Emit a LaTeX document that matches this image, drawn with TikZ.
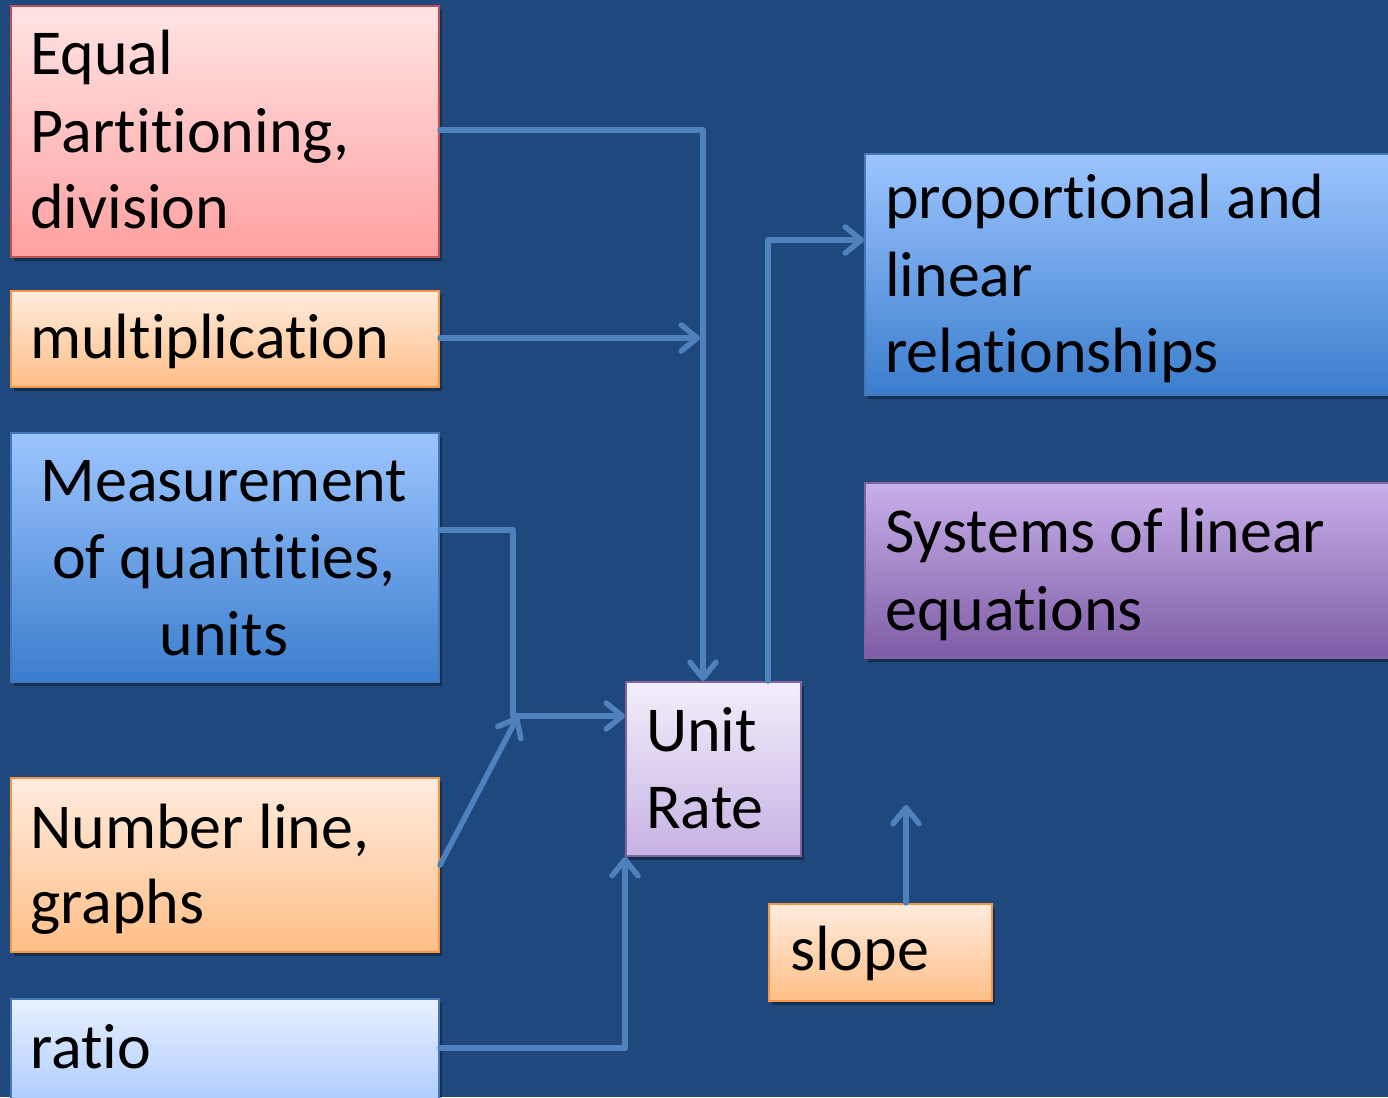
\documentclass[tikz,border=0pt]{standalone}
\usepackage{fontspec}
\setmainfont[RawFeature={-liga;-clig;-calt;-dlig}]{Carlito}
\usetikzlibrary{arrows.meta,shadows}
\definecolor{bg}{RGB}{31,73,125}
\definecolor{conn}{RGB}{79,129,189}
\definecolor{pinkT}{RGB}{255,228,228}
\definecolor{pinkB}{RGB}{255,160,160}
\definecolor{pinkD}{RGB}{192,80,77}
\definecolor{orT}{RGB}{255,236,222}
\definecolor{orB}{RGB}{255,190,134}
\definecolor{orD}{RGB}{247,150,70}
\definecolor{blT}{RGB}{157,197,255}
\definecolor{blB}{RGB}{58,125,205}
\definecolor{blD}{RGB}{70,120,185}
\definecolor{ltT}{RGB}{232,240,255}
\definecolor{ltB}{RGB}{160,195,255}
\definecolor{puT}{RGB}{200,176,234}
\definecolor{puB}{RGB}{126,92,166}
\definecolor{puD}{RGB}{128,100,162}
\definecolor{lvT}{RGB}{243,238,250}
\definecolor{lvB}{RGB}{198,178,228}
\tikzset{
  box/.style={draw, line width=2pt, anchor=north west, inner sep=0pt,
    drop shadow={shadow xshift=3pt, shadow yshift=-4pt, opacity=0.35, fill=black}},
  pinkbox/.style={box, draw=pinkD, top color=pinkT, bottom color=pinkB},
  orbox/.style={box, draw=orD, top color=orT, bottom color=orB},
  bluebox/.style={box, draw=blD, top color=blT, bottom color=blB},
  ltbox/.style={box, draw=blD, top color=ltT, bottom color=ltB},
  purbox/.style={box, draw=puD, top color=puT, bottom color=puB},
  lavbox/.style={box, draw=puD, top color=lvT, bottom color=lvB},
  txt/.style={inner sep=0pt, anchor=base west, font=\fontsize{64}{77}\selectfont, text=black},
  conline/.style={draw=conn, line width=5.5pt, line cap=round, line join=round},
  arr/.style={conline, -{Straight Barb[length=16pt,width=26pt,line width=5.5pt,round]}}
}
\begin{document}
\begin{tikzpicture}[x=1pt,y=-1pt]
\useasboundingbox (0,0) rectangle (1388,1097);
\fill[bg] (0,0) rectangle (1388,1097);
\clip (0,0) rectangle (1388,1097);
% boxes
\node[pinkbox, minimum width=428pt, minimum height=251pt] (eq) at (10,5) {};
\node[orbox, minimum width=428pt, minimum height=96pt] (mu) at (10,290) {};
\node[bluebox, minimum width=428pt, minimum height=249pt] (me) at (10,432) {};
\node[orbox, minimum width=428pt, minimum height=174pt] (nl) at (10,777) {};
\node[ltbox, minimum width=428pt, minimum height=130pt] (ra) at (10,998) {};
\node[bluebox, minimum width=540pt, minimum height=241pt] (pr) at (864,153) {};
\node[purbox, minimum width=540pt, minimum height=175pt] (sy) at (864,482) {};
\node[lavbox, minimum width=175pt, minimum height=174pt] (ur) at (625,681) {};
\node[orbox, minimum width=223pt, minimum height=97pt] (sl) at (768,903) {};
% texts
\node[txt] (t1a) at (30,75) {Equal};
\node[txt] (t1b) at (30,152) {Partitioning,};
\node[txt] (t1c) at (30,228) {division};
\node[txt] (t2) at (30,358) {multiplication};
\node[txt, anchor=base] (t3a) at (224,501) {Measurement};
\node[txt, anchor=base] (t3b) at (224,578) {of quantities,};
\node[txt, anchor=base] (t3c) at (224,655) {units};
\node[txt] (t4a) at (30,848) {Number line,};
\node[txt] (t4b) at (30,923) {graphs};
\node[txt] (t5) at (30,1068) {ratio};
\node[txt] (t6a) at (885,218) {proportional and};
\node[txt] (t6b) at (885,296) {linear};
\node[txt] (t6c) at (885,372) {relationships};
\node[txt] (t7a) at (885,552) {Systems of linear};
\node[txt] (t7b) at (885,630) {equations};
\node[txt] (t8a) at (646,751) {Unit};
\node[txt] (t8b) at (646,828) {Rate};
\node[txt] (t9) at (790,970) {slope};
% junction coordinates
\coordinate (j1) at (703,130);
\coordinate (j2) at (700,338);
\coordinate (j3) at (513,530);
\coordinate (j4) at (513,716);
\coordinate (j5) at (518,716);
\coordinate (j6) at (625,1048);
\coordinate (j7) at (768,240);
\coordinate (j8) at (906,805);
\coordinate (nlp) at (440,865);
% connectors
\draw[arr] (eq.east |- j1) -- (j1) -- (j1 |- ur.north);
\draw[arr] (mu.east |- j2) -- (j2);
\draw[arr] (me.east |- j3) -- (j3) -- (j4) -- (ur.west |- j4);
\draw[arr] (nlp) -- (j5);
\draw[arr] (ra.east |- j6) -- (j6) -- (ur.south west);
\draw[arr] (ur.north -| j7) -- (j7) -- (pr.west |- j7);
\draw[arr] (sl.north -| j8) -- (j8);
\end{tikzpicture}
\end{document}
